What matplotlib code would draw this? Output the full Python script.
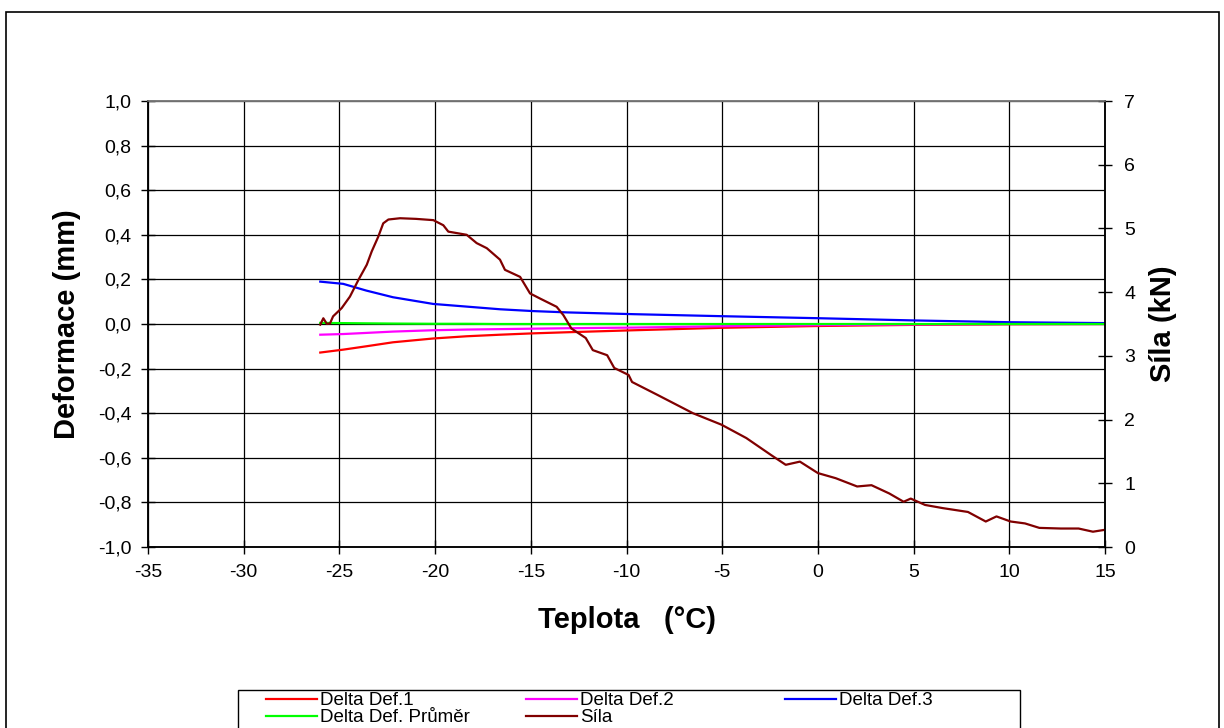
import matplotlib.pyplot as plt
from matplotlib.lines import Line2D
from matplotlib.patches import Rectangle
from matplotlib.ticker import FuncFormatter

plt.rcParams['font.family'] = ['Liberation Sans', 'DejaVu Sans']
plt.rcParams['axes.unicode_minus'] = False

# deformation curves (mm) vs temperature
temp_def = [-26.0, -24.8, -23.6, -22.2, -20.1, -18.35, -16.6, -14.9, -13.1, -9.6, -5.0, 0.0, 5.0, 10.0, 15.0]
def1 = [-0.128, -0.115, -0.100, -0.082, -0.065, -0.055, -0.048, -0.042, -0.037, -0.028, -0.017, -0.009, -0.004, -0.001, 0.0]
def2 = [-0.048, -0.045, -0.040, -0.034, -0.028, -0.025, -0.023, -0.021, -0.019, -0.016, -0.010, -0.005, -0.002, 0.0, 0.0]
def3 = [0.190, 0.180, 0.150, 0.120, 0.090, 0.078, 0.066, 0.058, 0.052, 0.044, 0.035, 0.026, 0.016, 0.008, 0.004]
def_avg = [0.005, 0.004, 0.003, 0.002, 0.001, 0.001, 0.0, 0.0, 0.0, 0.0, 0.0, 0.0, 0.0, 0.0, 0.0]

# force (kN) vs temperature
temp_sila = [-26.0, -25.84, -25.65, -25.49, -25.33, -24.88, -24.45, -24.01, -23.57, -23.31,
             -22.97, -22.71, -22.44, -21.83, -21.0, -20.09, -19.57, -19.31, -18.35, -17.83,
             -17.30, -16.61, -16.35, -15.56, -15.04, -14.52, -13.65, -13.30, -12.88, -12.13,
             -11.76, -11.01, -10.64, -9.89, -9.71, -8.40, -6.53, -5.04, -3.74, -2.43,
             -1.68, -0.94, 0.0, 0.93, 2.05, 2.80, 3.73, 4.48, 4.85, 5.60,
             6.53, 7.84, 8.77, 9.33, 10.07, 10.82, 11.57, 12.69, 13.62, 14.37, 15.0]
sila = [3.49, 3.59, 3.50, 3.51, 3.62, 3.75, 3.93, 4.19, 4.43, 4.64,
        4.87, 5.08, 5.14, 5.16, 5.15, 5.13, 5.05, 4.95, 4.90, 4.77,
        4.69, 4.51, 4.35, 4.24, 3.98, 3.90, 3.77, 3.64, 3.43, 3.28,
        3.09, 3.01, 2.81, 2.70, 2.59, 2.39, 2.10, 1.92, 1.71, 1.44,
        1.29, 1.34, 1.16, 1.08, 0.95, 0.97, 0.84, 0.71, 0.76, 0.66,
        0.61, 0.55, 0.40, 0.48, 0.40, 0.37, 0.30, 0.29, 0.29, 0.24, 0.27]

W, H = 1224, 728
fig = plt.figure(figsize=(W / 100, H / 100), dpi=100)
ax = fig.add_axes([148 / W, 1 - 547 / H, (1105 - 148) / W, (547 - 101) / H])

ax.plot(temp_def, def1, color='#ff0000', lw=1.6)
ax.plot(temp_def, def2, color='#ff00ff', lw=1.6)
ax.plot(temp_def, def3, color='#0000ff', lw=1.6)
ax.plot(temp_def, def_avg, color='#00ff00', lw=1.6)

ax.set_xlim(-35, 15)
ax.set_ylim(-1.0, 1.0)
ax.set_xticks(range(-35, 16, 5))
ax.set_yticks([i / 10 for i in range(-10, 11, 2)])
ax.yaxis.set_major_formatter(FuncFormatter(lambda v, p: f"{v:.1f}".replace('.', ',')))
ax.grid(True, color='black', lw=0.9)
ax.tick_params(direction='inout', length=10, width=1, labelsize=14, pad=7)
for s in ax.spines.values():
    s.set_linewidth(1.1)
ax.spines['top'].set_color('#777777')

ax.set_xlabel('Teplota   (°C)', fontsize=21, fontweight='bold', labelpad=18)
ax.set_ylabel('Deformace (mm)', fontsize=21, fontweight='bold', labelpad=12)

ax2 = ax.twinx()
ax2.plot(temp_sila, sila, color='#800000', lw=1.6)
ax2.set_ylim(0, 7)
ax2.set_yticks(range(0, 8))
ax2.tick_params(direction='inout', length=10, width=1, labelsize=14, pad=9)
ax2.set_ylabel('Síla (kN)', fontsize=21, fontweight='bold', labelpad=10)
for s in ax2.spines.values():
    s.set_linewidth(1.1)
ax2.spines['top'].set_color('#777777')

# outer chart border and legend box (cut at the bottom edge)
fig.patches.append(Rectangle((6 / W, -0.1), (1219 - 6) / W, 1.1 - 12 / H,
                             transform=fig.transFigure, fill=False, ec='black', lw=1.2))
fig.patches.append(Rectangle((238 / W, -0.1), (1020 - 238) / W, 0.1 + 1 - 690 / H,
                             transform=fig.transFigure, fill=False, ec='black', lw=1.0))

cols = [
    ([('#ff0000', 'Delta Def.1'), ('#00ff00', 'Delta Def. Průměr')], 266),
    ([('#ff00ff', 'Delta Def.2'), ('#800000', 'Síla')], 526),
    ([('#0000ff', 'Delta Def.3')], 785),
]
for entries, xpx in cols:
    handles = [Line2D([], [], color=c, lw=1.6) for c, _ in entries]
    labels = [t for _, t in entries]
    fig.legend(handles, labels, loc='upper left', bbox_to_anchor=(xpx / W, 1 - 692 / H),
               frameon=False, borderpad=0, borderaxespad=0, handlelength=2.7,
               handletextpad=0.2, labelspacing=0.0,
               prop={'size': 13.5})

fig.savefig('out.png', dpi=100)
